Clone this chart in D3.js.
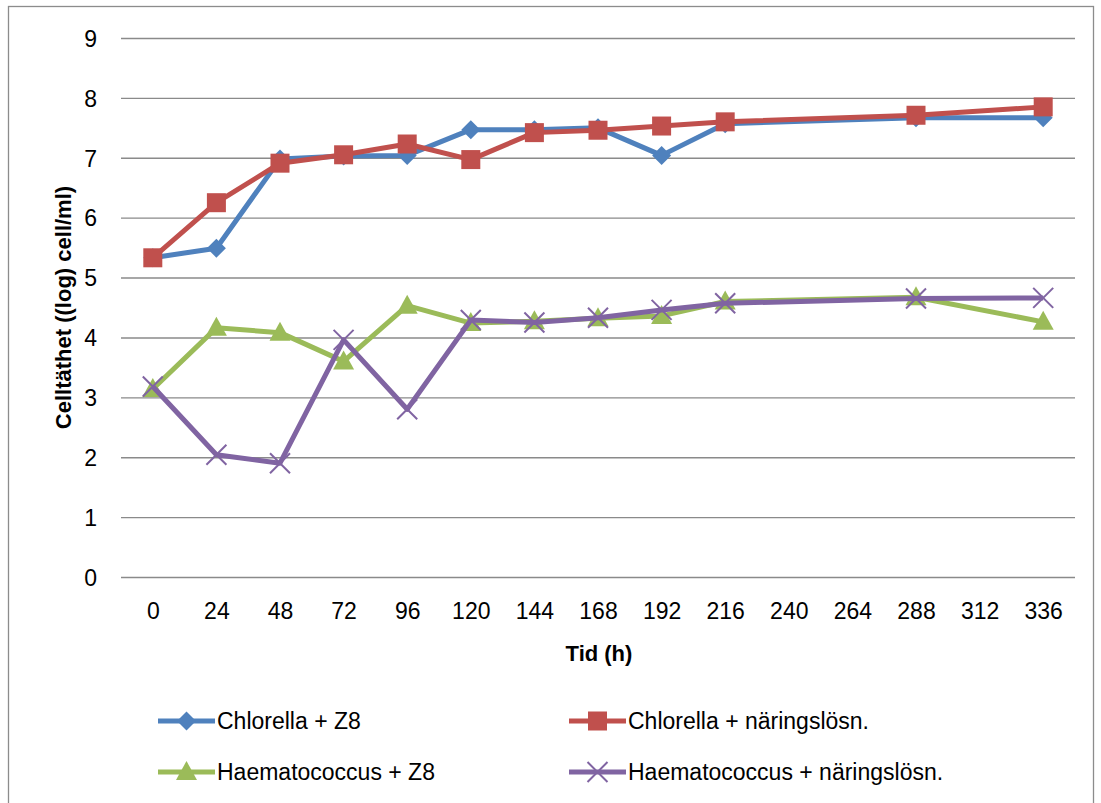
<!DOCTYPE html>
<html lang="sv">
<head>
<meta charset="utf-8">
<title>Celltäthet</title>
<script src="https://cdn.jsdelivr.net/npm/d3@7"></script>
<style>
  body { margin: 0; background: #fff; }
  text { font-family: "Liberation Sans", Arial, sans-serif; fill: #000; }
</style>
</head>
<body>
<script>
// data
var tickLabels = ["0", "24", "48", "72", "96", "120", "144", "168", "192", "216", "240", "264", "288", "312", "336"];
var hours = ["0", "24", "48", "72", "96", "120", "144", "168", "192", "216", "288", "336"];
var chlorellaZ8 = [5.33, 5.49, 6.98, 7.03, 7.04, 7.47, 7.47, 7.50, 7.04, 7.57, 7.67, 7.67];
var chlorellaNaring = [5.33, 6.25, 6.91, 7.05, 7.23, 6.97, 7.42, 7.46, 7.53, 7.60, 7.71, 7.85];
var haemaZ8 = [3.14, 4.16, 4.08, 3.60, 4.53, 4.24, 4.27, 4.32, 4.36, 4.60, 4.67, 4.26];
var haemaNaring = [3.18, 2.04, 1.90, 3.96, 2.80, 4.29, 4.25, 4.33, 4.46, 4.57, 4.65, 4.66];
var yTicks = [0, 1, 2, 3, 4, 5, 6, 7, 8, 9];

var series = [
  { name: "Chlorella + Z8", values: chlorellaZ8, color: "#4F81BD", marker: "diamond" },
  { name: "Chlorella + näringslösn.", values: chlorellaNaring, color: "#C0504D", marker: "square" },
  { name: "Haematococcus + Z8", values: haemaZ8, color: "#9BBB59", marker: "triangle" },
  { name: "Haematococcus + näringslösn.", values: haemaNaring, color: "#8064A2", marker: "cross" }
];

var w = 1101, h = 803;
// plot area edges (window.top is reserved, so prefixed names)
var plotLeft = 121, plotRight = 1075, plotTop = 38, plotBottom = 577;

var svg = d3.select("body").append("svg")
  .attr("width", w)
  .attr("height", h);

// outer frame
svg.append("rect")
  .attr("x", 8.5).attr("y", 6.5)
  .attr("width", 1085).attr("height", 810)
  .attr("fill", "#fff")
  .attr("stroke", "#8c8c8c")
  .attr("stroke-width", 1.3);

var x = d3.scalePoint()
  .domain(tickLabels)
  .range([plotLeft, plotRight])
  .padding(0.5);

var y = d3.scaleLinear()
  .domain([0, 9])
  .range([plotBottom, plotTop]);

// gridlines + y labels
var yAxis = d3.axisLeft(y)
  .tickValues(yTicks)
  .tickSize(-(plotRight - plotLeft))
  .tickPadding(24)
  .tickFormat(d3.format("d"));

var gy = svg.append("g")
  .attr("transform", "translate(" + plotLeft + ",0)")
  .call(yAxis);
gy.select(".domain").remove();
gy.selectAll(".tick line").attr("stroke", "#8a8a8a").attr("stroke-width", 1.4);
gy.selectAll(".tick text").style("font-size", "23px").attr("dy", "0.36em");

// x labels
var xAxis = d3.axisBottom(x).tickSize(0).tickPadding(26);
var gx = svg.append("g")
  .attr("transform", "translate(0," + plotBottom + ")")
  .call(xAxis);
gx.select(".domain").remove();
gx.selectAll(".tick text").style("font-size", "23px");

// axis titles
svg.append("text")
  .attr("x", (plotLeft + plotRight) / 2 + 1)
  .attr("y", 661)
  .attr("text-anchor", "middle")
  .style("font-size", "22px")
  .style("font-weight", "bold")
  .text("Tid (h)");

svg.append("text")
  .attr("transform", "translate(71," + (plotTop + plotBottom) / 2 + ") rotate(-90)")
  .attr("text-anchor", "middle")
  .style("font-size", "22px")
  .style("font-weight", "bold")
  .text("Celltäthet ((log) cell/ml)");

function drawMarker(g, type, color, cx, cy) {
  if (type == "diamond") {
    g.append("path")
      .attr("d", "M" + cx + "," + (cy - 9.5) + "L" + (cx + 9.5) + "," + cy + "L" + cx + "," + (cy + 9.5) + "L" + (cx - 9.5) + "," + cy + "Z")
      .attr("fill", color);
  } else if (type == "square") {
    g.append("rect")
      .attr("x", cx - 9.5).attr("y", cy - 9.5)
      .attr("width", 19).attr("height", 19)
      .attr("fill", color);
  } else if (type == "triangle") {
    g.append("path")
      .attr("d", "M" + cx + "," + (cy - 11) + "L" + (cx + 10.5) + "," + (cy + 8) + "L" + (cx - 10.5) + "," + (cy + 8) + "Z")
      .attr("fill", color);
  } else {
    g.append("path")
      .attr("d", "M" + (cx - 10) + "," + (cy - 10) + "L" + (cx + 10) + "," + (cy + 10) + "M" + (cx + 10) + "," + (cy - 10) + "L" + (cx - 10) + "," + (cy + 10))
      .attr("stroke", color)
      .attr("stroke-width", 2)
      .attr("fill", "none");
  }
}

var line = d3.line()
  .x(function(d) { return x(d[0]); })
  .y(function(d) { return y(d[1]); });

series.forEach(function(s) {
  var pts = hours.map(function(hr, i) { return [hr, s.values[i]]; });
  var g = svg.append("g");
  g.append("path")
    .datum(pts)
    .attr("d", line)
    .attr("fill", "none")
    .attr("stroke", s.color)
    .attr("stroke-width", 5)
    .attr("stroke-linejoin", "round");
  pts.forEach(function(p) {
    drawMarker(g, s.marker, s.color, x(p[0]), y(p[1]));
  });
});

// legend
var legendPos = [[158, 721], [569, 721], [158, 772], [569, 772]];
series.forEach(function(s, i) {
  var lx = legendPos[i][0], ly = legendPos[i][1];
  var g = svg.append("g");
  g.append("line")
    .attr("x1", lx).attr("x2", lx + 57)
    .attr("y1", ly).attr("y2", ly)
    .attr("stroke", s.color)
    .attr("stroke-width", 5);
  drawMarker(g, s.marker, s.color, lx + 28.5, ly);
  g.append("text")
    .attr("x", lx + 59)
    .attr("y", ly + 8)
    .style("font-size", "23px")
    .text(s.name);
});
</script>
</body>
</html>
